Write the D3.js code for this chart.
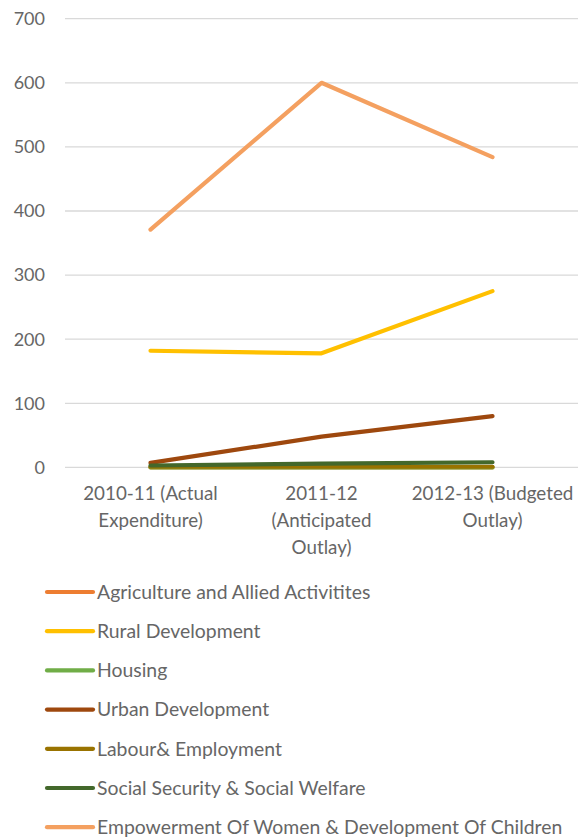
<!DOCTYPE html>
<html><head><meta charset="utf-8">
<script src="https://cdn.jsdelivr.net/npm/d3@7"></script>
<style>body{margin:0;background:#fff}svg{display:block}text{font-family:Lato,"Open Sans",sans-serif;fill:#666666}</style>
</head><body><svg id="c" width="585" height="839"></svg>
<script>
const categories = [["2010-11 (Actual","Expenditure)"],["2011-12","(Anticipated","Outlay)"],["2012-13 (Budgeted","Outlay)"]];
const seriesNames = ["Agriculture and Allied Activitites","Rural Development","Housing","Urban Development","Labour& Employment","Social Security & Social Welfare","Empowerment Of Women & Development Of Children"];
const seriesColors = ["#ED7D31","#FFC000","#70AD47","#9E480E","#997300","#43682B","#F4A060"];
const agriculture = [0,0,0];
const rural = [182,178,275];
const housing = [0,0,0];
const urban = [7,48,80];
const labour = [1,1,1];
const social = [3,6,8];
const empowerment = [371,600,484];
const yTicks = [0,100,200,300,400,500,600,700];
const values = [agriculture,rural,housing,urban,labour,social,empowerment];

const svg = d3.select("#c");
const x = d3.scaleBand().domain([0,1,2]).range([65,578]);
const y = d3.scaleLinear().domain([0,700]).range([467.4,18.7]);

svg.append("g").selectAll("line").data(yTicks).join("line")
  .attr("x1",65).attr("x2",578).attr("y1",d=>y(d)).attr("y2",d=>y(d))
  .attr("stroke","#d9d9d9").attr("stroke-width",1.3);
svg.append("g").selectAll("text").data(yTicks).join("text")
  .attr("x",45).attr("y",d=>y(d)).attr("dy","0.35em").attr("text-anchor","end")
  .attr("font-size",18).text(d=>d);

const cx = i => x(i)+x.bandwidth()/2;
const cg = svg.append("g").selectAll("text").data(categories).join("text")
  .attr("text-anchor","middle").attr("font-size",18.8);
cg.selectAll("tspan").data((d,i)=>d.map(t=>({t,i}))).join("tspan")
  .attr("x",d=>cx(d.i)).attr("y",(d,j)=>500+j*27).text(d=>d.t);

const line = d3.line().x((d,i)=>cx(i)).y(d=>y(d));
svg.append("g").selectAll("path").data(values).join("path")
  .attr("d",d=>line(d)).attr("fill","none").attr("stroke",(d,i)=>seriesColors[i])
  .attr("stroke-width",4.2).attr("stroke-linecap","round").attr("stroke-linejoin","round");

const lg = svg.append("g").selectAll("g").data(seriesNames).join("g")
  .attr("transform",(d,i)=>`translate(0,${592+i*39.2})`);
lg.append("line").attr("x1",47).attr("x2",93).attr("stroke",(d,i)=>seriesColors[i])
  .attr("stroke-width",4.2).attr("stroke-linecap","round");
lg.append("text").attr("x",97).attr("dy","0.35em").attr("font-size",19.4).text(d=>d);
</script></body></html>
